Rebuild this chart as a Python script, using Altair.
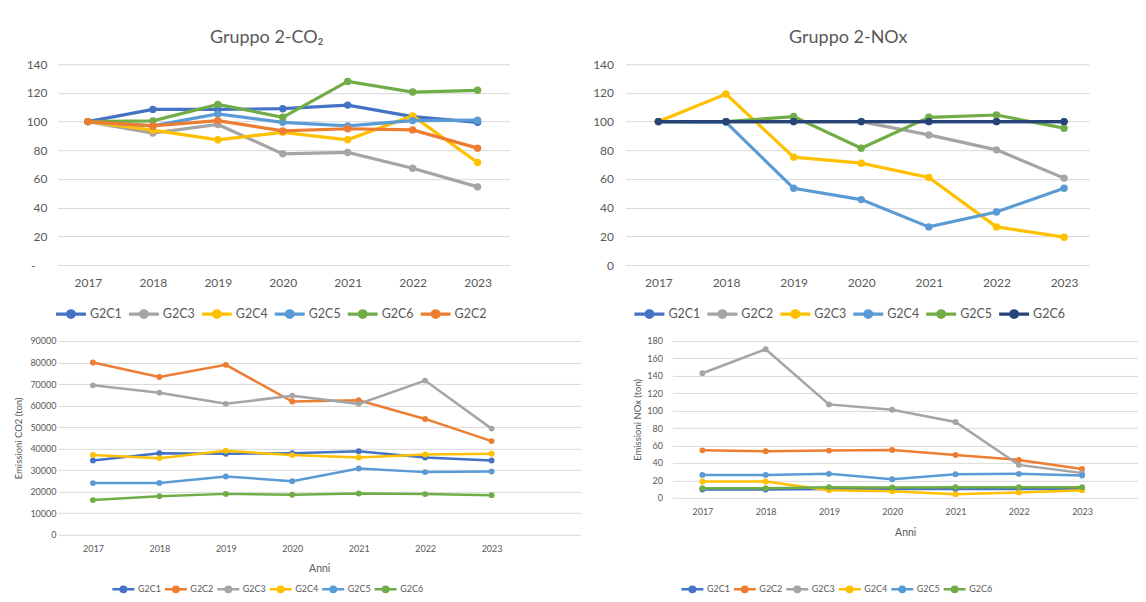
import altair as alt
import pandas as pd

years = ["2017", "2018", "2019", "2020", "2021", "2022", "2023"]

# ---- Panel 1: Gruppo 2 - CO2 (index, 2017 = 100)
co2i_series = ["G2C1", "G2C3", "G2C4", "G2C5", "G2C6", "G2C2"]
co2i_colors = ["#4472C4", "#A5A5A5", "#FFC000", "#5B9BD5", "#70AD47", "#ED7D31"]
co2i_G2C1 = [100, 108.5, 108.5, 109, 111.5, 103.5, 99.5]
co2i_G2C3 = [100, 92, 98, 77.5, 78.5, 67.5, 54.5]
co2i_G2C4 = [100, 94, 87.3, 92.5, 87.3, 104, 71.5]
co2i_G2C5 = [100, 97, 105.3, 99.5, 97, 100.7, 101]
co2i_G2C6 = [100, 100.5, 112, 103, 128, 120.6, 121.8]
co2i_G2C2 = [100, 97, 100.7, 93.5, 95, 94.2, 81.5]

# ---- Panel 2: Gruppo 2 - NOx (index, 2017 = 100)
noxi_series = ["G2C1", "G2C2", "G2C3", "G2C4", "G2C5", "G2C6"]
noxi_colors = ["#4472C4", "#A5A5A5", "#FFC000", "#5B9BD5", "#70AD47", "#264478"]
noxi_G2C1 = [100, 100, 100, 100, 100, 100, 100]
noxi_G2C2 = [100, 100, 100, 100, 90.7, 80.3, 60.6]
noxi_G2C3 = [100, 119.2, 75.2, 71, 61, 26.6, 19.4]
noxi_G2C4 = [100, 99.5, 53.5, 45.6, 26.6, 37, 53.5]
noxi_G2C5 = [100, 100, 103.5, 81.5, 103, 104.6, 95.4]
noxi_G2C6 = [100, 100, 100, 100, 100, 100, 100]

# ---- Panel 3: Emissioni CO2 (ton)
co2_series = ["G2C1", "G2C2", "G2C3", "G2C4", "G2C5", "G2C6"]
co2_colors = ["#4472C4", "#ED7D31", "#A5A5A5", "#FFC000", "#5B9BD5", "#70AD47"]
co2_G2C1 = [34500, 37900, 37600, 37900, 38800, 35900, 34500]
co2_G2C2 = [80000, 73300, 78900, 61900, 62500, 53800, 43500]
co2_G2C3 = [69400, 66000, 60800, 64600, 60800, 71600, 49300]
co2_G2C4 = [37100, 35600, 39000, 37000, 35900, 37300, 37600]
co2_G2C5 = [24000, 24100, 27100, 24900, 30800, 29100, 29400]
co2_G2C6 = [16100, 17900, 19000, 18600, 19200, 18900, 18400]

# ---- Panel 4: Emissioni NOx (ton)
nox_series = ["G2C1", "G2C2", "G2C3", "G2C4", "G2C5", "G2C6"]
nox_colors = ["#4472C4", "#ED7D31", "#A5A5A5", "#FFC000", "#5B9BD5", "#70AD47"]
nox_G2C1 = [9.5, 9.5, 10, 10, 10, 10, 10]
nox_G2C2 = [54.5, 53.4, 54.2, 54.9, 49.2, 43.5, 33.2]
nox_G2C3 = [143, 170.5, 107.2, 101, 87, 37.8, 28.6]
nox_G2C4 = [18.7, 18.7, 8.8, 7.6, 4.2, 6.1, 8.8]
nox_G2C5 = [26.3, 26.3, 27.5, 21.4, 27, 27.5, 25.6]
nox_G2C6 = [11, 11, 12.2, 11.8, 12.2, 12.2, 12.2]

FONT = "Lato"
TXT = "#595959"
GRID = "#D9D9D9"
# legend glyph: short line with a dot in the middle (Excel "line with markers")
LEG_PATH_TOP = ("M-1.07,0 L1.07,0 M0.24,0 A0.24,0.24 0 1,1 -0.24,0 "
                "A0.24,0.24 0 1,1 0.24,0")
LEG_PATH_BOT = ("M-2,0 L2,0 M0.5,0 A0.5,0.5 0 1,1 -0.5,0 "
                "A0.5,0.5 0 1,1 0.5,0")


def long_df(series, values):
    rows = []
    for s, vals in zip(series, values):
        for yr, v in zip(years, vals):
            rows.append({"anno": yr, "serie": s, "valore": v})
    return pd.DataFrame(rows)


def point_scale(width, first, last):
    step = (last - first) / (len(years) - 1)
    spare = width - step * (len(years) - 1)
    return alt.Scale(type="point", domain=years,
                     padding=spare / (2 * step), align=first / spare)


def panel(df, series, colors, width, height, xpos, ymax, ystep,
          ylab_pad, fs, sw, psize, leg, title=None, tdx=0, ytitle=None,
          xtitle=None, zero_dash=False):
    if zero_dash:
        lab_expr = "datum.value == 0 ? '-' : datum.label"
        lab_pad = {"condition": {"test": "datum.value == 0", "value": ylab_pad + 12},
                   "value": ylab_pad}
    else:
        lab_expr = "datum.label"
        lab_pad = ylab_pad
    x = alt.X("anno:N",
              scale=point_scale(width, xpos[0], xpos[1]),
              axis=alt.Axis(title=xtitle, labelAngle=0, labelFontSize=fs,
                            labelPadding=leg["xpad"], titleFontSize=fs + 1.5,
                            titlePadding=leg.get("xtpad", 4), grid=False,
                            titleFontWeight="normal"))
    y = alt.Y("valore:Q",
              scale=alt.Scale(domain=[0, ymax], nice=False),
              axis=alt.Axis(title=ytitle, values=list(range(0, ymax + 1, ystep)),
                            labelFontSize=fs, labelPadding=lab_pad,
                            labelExpr=lab_expr, titleFontSize=leg.get("ytfs", fs + 0.5),
                            titlePadding=leg.get("ytpad", 5),
                            titleFontWeight="normal", format="d"))
    color = alt.Color("serie:N",
                      scale=alt.Scale(domain=series, range=colors),
                      legend=alt.Legend(title=None, orient="none",
                                        direction="horizontal",
                                        legendX=leg["x"], legendY=leg["y"],
                                        symbolType=leg["path"],
                                        symbolSize=leg["ssize"],
                                        symbolStrokeWidth=sw,
                                        labelFontSize=leg["lfs"],
                                        labelOffset=leg["loff"],
                                        columnPadding=leg["cpad"],
                                        labelColor=TXT, labelFont=FONT))
    layers = []
    for s in series:
        base = alt.Chart(df).transform_filter(alt.datum.serie == s)
        layers.append(base.mark_line(strokeWidth=sw).encode(x=x, y=y, color=color))
        layers.append(base.mark_point(filled=True, size=psize, opacity=1)
                      .encode(x=x, y=y, color=color))
    ch = alt.layer(*layers).properties(width=width, height=height)
    if title:
        ch = ch.properties(title=alt.TitleParams(
            text=title, fontSize=18, font=FONT, color=TXT, fontWeight="normal",
            anchor="middle", frame="group", dx=tdx, offset=-3,
            baseline="alphabetic"))
    return ch


p1 = panel(long_df(co2i_series, [co2i_G2C1, co2i_G2C3, co2i_G2C4, co2i_G2C5, co2i_G2C6, co2i_G2C2]),
           co2i_series, co2i_colors, 452, 201, (30, 420), 140, 20, 11, 12, 3.2, 55,
           {"x": -3, "y": 234, "path": LEG_PATH_TOP, "ssize": 784, "lfs": 12.5,
            "loff": 3, "cpad": 0, "xpad": 12},
           title="Gruppo 2-CO\u2082", tdx=-17, zero_dash=True)
p2 = panel(long_df(noxi_series, [noxi_G2C1, noxi_G2C2, noxi_G2C3, noxi_G2C4, noxi_G2C5, noxi_G2C6]),
           noxi_series, noxi_colors, 464, 201, (33, 439), 140, 20, 12, 12, 3.2, 55,
           {"x": 8, "y": 234, "path": LEG_PATH_TOP, "ssize": 784, "lfs": 12.5,
            "loff": 3, "cpad": 0, "xpad": 12},
           title="Gruppo 2-NOx", tdx=-9)
p3 = panel(long_df(co2_series, [co2_G2C1, co2_G2C2, co2_G2C3, co2_G2C4, co2_G2C5, co2_G2C6]),
           co2_series, co2_colors, 523, 194, (35, 434), 90000, 10000, 2, 9, 2.5, 35,
           {"x": 58.5, "y": 241.5, "path": LEG_PATH_BOT, "ssize": 121, "lfs": 9,
            "loff": 7.5, "cpad": -1.5, "xpad": 10, "ytpad": 6, "xtpad": 10},
           ytitle="Emissioni CO2 (ton)", xtitle="Anni")
p4 = panel(long_df(nox_series, [nox_G2C1, nox_G2C2, nox_G2C3, nox_G2C4, nox_G2C5, nox_G2C6]),
           nox_series, nox_colors, 466, 157, (30, 410), 180, 20, 10, 9, 2.5, 35,
           {"x": 13, "y": 241.5, "path": LEG_PATH_BOT, "ssize": 121, "lfs": 9,
            "loff": 7.5, "cpad": -1.5, "xpad": 10, "ytpad": 4, "xtpad": 11},
           ytitle="Emissioni NOx (ton)", xtitle="Anni")

top = alt.hconcat(p1, p2, spacing=116, bounds="flush").resolve_scale(color="independent")
bottom = alt.hconcat(p3, p4, spacing=92, bounds="flush").resolve_scale(color="independent")

chart = alt.vconcat(top, bottom, spacing=13).resolve_scale(
    color="independent"
).configure(
    padding={"left": 5, "top": 21, "right": 0, "bottom": 0},
    background="white",
    font=FONT,
).configure_view(stroke=None).configure_axis(
    domain=False, ticks=False, gridColor=GRID, gridWidth=1,
    labelColor=TXT, titleColor=TXT, labelFont=FONT, titleFont=FONT,
)

chart.save("out.html", embed_options={"renderer": "svg", "actions": False})
